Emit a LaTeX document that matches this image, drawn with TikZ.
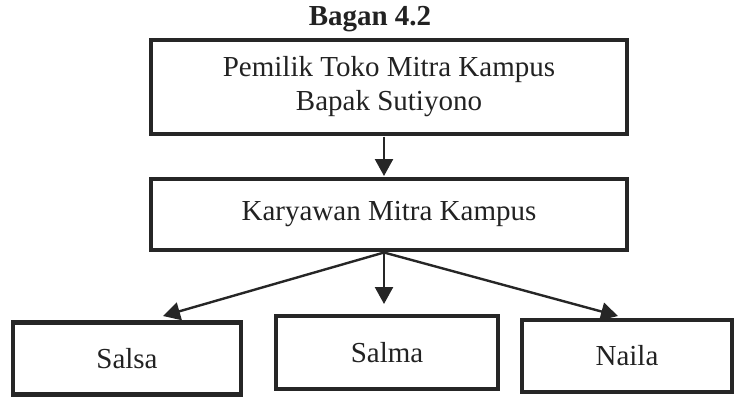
\documentclass[tikz,border=0pt]{standalone}
\usepackage{fontspec}
\setmainfont{Liberation Serif}
\usetikzlibrary{arrows.meta}
\definecolor{garis}{HTML}{262626}
\definecolor{tulisan}{HTML}{222222}
\tikzset{
    kotak/.style={draw=garis, line width=4.8pt, inner sep=0pt, align=center,
                  text=tulisan, font=\fontsize{29}{34}\selectfont},
    panah/.style={draw=garis, line width=2.4pt, -{Triangle[width=18pt,length=17pt]}}
}
\begin{document}
\begin{tikzpicture}[x=1pt,y=-1pt]
                    \useasboundingbox (0,0) rectangle (734,397);
                    \node[text=tulisan, font=\fontsize{29}{34}\selectfont\bfseries] (judul) at (370,19) {Bagan 4.2};

                    \node[kotak, minimum width=476pt, minimum height=94pt] (pemilik) at (389,87)
                        {Pemilik Toko Mitra Kampus\\Bapak Sutiyono};
                    \node[kotak, minimum width=476pt, minimum height=71pt] (karyawan) at (389,214.5)
                        {Karyawan Mitra Kampus};

                    \node[kotak, minimum width=228pt, minimum height=72pt] (salsa) at (127,358.5) {Salsa};
                    \node[kotak, minimum width=222pt, minimum height=73pt] (salma) at (387,352.5) {Salma};
                    \node[kotak, minimum width=210pt, minimum height=72pt] (naila) at (627,356) {Naila};

                    \coordinate (atas) at (384,136.5);
                    \coordinate (ujungatas) at (384,176);
                    \coordinate (cabang) at (384,252.5);
                    \coordinate (ujungsalsa) at (163,316);
                    \coordinate (ujungsalma) at (384,304);
                    \coordinate (ujungnaila) at (618,316);

                    \draw[panah] (atas) -- (ujungatas);
                    \draw[panah] (cabang) -- (ujungsalsa);
                    \draw[panah] (cabang) -- (ujungsalma);
                    \draw[panah] (cabang) -- (ujungnaila);
                \end{tikzpicture}
\end{document}
